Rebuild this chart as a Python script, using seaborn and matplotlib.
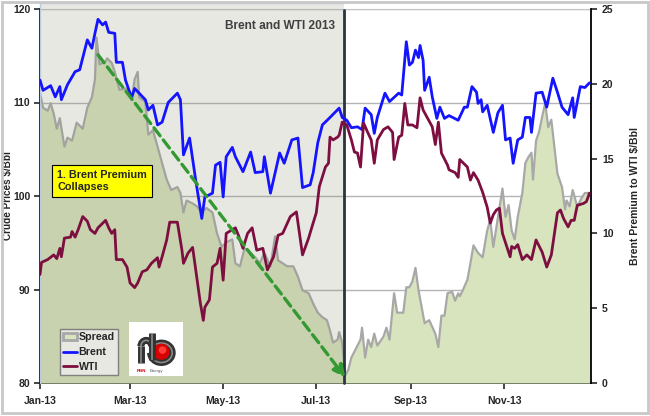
import matplotlib
matplotlib.use('Agg')
import numpy as np
import pandas as pd
import matplotlib.pyplot as plt
import matplotlib.dates as mdates
from matplotlib.patches import Rectangle, Circle, Arc, Patch
from matplotlib.lines import Line2D
import seaborn as sns

# days counted from 1 Jan 2013
brent_day = [0, 2, 7, 10, 13, 14, 18, 23, 26, 31,
             34, 36, 38, 41, 43, 45, 49, 50, 54, 56,
             60, 62, 69, 71, 74, 77, 80, 84, 90, 92,
             94, 98, 102, 106, 108, 113, 115, 118, 120, 122,
             126, 128, 133, 138, 141, 146, 147, 151, 157, 160,
             165, 169, 172, 177, 179, 182, 185, 190, 196, 198,
             201, 204, 208, 211, 213, 217, 219, 221, 226, 229,
             235, 237, 240, 242, 244, 246, 248, 249, 251, 252,
             255, 257, 260, 262, 265, 268, 274, 278, 280, 283,
             286, 287, 289, 290, 293, 297, 300, 303, 305, 308,
             310, 313, 316, 318, 321, 322, 325, 329, 332, 336,
             339, 342, 346, 349, 350, 354, 357, 360]
brent_price = [112.4, 111.3, 111.8, 110.6, 111.7, 110.3, 111.9, 113.3, 113.5, 116.7,
               115.8, 117.4, 118.9, 118.3, 118.6, 117.5, 117.4, 114.3, 114.3, 112.4,
               110.5, 111.5, 110.3, 109.2, 109.7, 107.6, 107.9, 110.0, 111.0, 110.3,
               104.4, 106.2, 101.7, 97.6, 99.9, 100.3, 103.3, 103.6, 99.9, 104.2,
               105.2, 104.2, 102.6, 104.7, 102.5, 102.6, 104.2, 100.3, 104.6, 103.5,
               106.0, 106.2, 100.9, 101.2, 102.5, 105.7, 107.6, 108.4, 109.4, 108.4,
               108.1, 107.3, 107.4, 107.1, 109.4, 108.7, 106.7, 108.4, 111.0, 110.1,
               111.0, 110.8, 116.5, 114.0, 114.3, 115.6, 114.8, 116.1, 114.5, 111.3,
               112.7, 110.6, 108.3, 109.5, 108.3, 108.6, 108.1, 109.5, 109.5, 111.7,
               111.1, 109.9, 110.3, 109.0, 109.7, 106.8, 108.9, 109.7, 106.0, 106.2,
               103.5, 106.0, 106.3, 108.4, 108.4, 106.8, 111.0, 111.1, 109.5, 112.6,
               111.1, 109.5, 108.7, 110.5, 108.4, 111.7, 111.6, 112.1]

wti_day = [0, 1, 5, 9, 11, 13, 14, 16, 20, 21,
           23, 25, 28, 31, 33, 36, 38, 43, 45, 47,
           49, 50, 54, 57, 59, 62, 64, 67, 70, 73,
           77, 78, 80, 83, 85, 90, 93, 94, 97, 100,
           103, 105, 107, 108, 111, 113, 116, 118, 120, 122,
           126, 128, 130, 133, 136, 139, 142, 146, 149, 153,
           156, 159, 164, 168, 170, 172, 176, 178, 181, 183,
           187, 189, 190, 192, 195, 196, 198, 201, 204, 206,
           208, 210, 212, 215, 217, 219, 221, 225, 228, 231,
           232, 235, 237, 239, 241, 244, 247, 249, 251, 253,
           257, 259, 261, 263, 267, 268, 272, 274, 275, 280,
           282, 284, 287, 290, 293, 295, 297, 299, 301, 303,
           306, 308, 309, 311, 313, 316, 319, 322, 325, 329,
           332, 335, 339, 341, 343, 346, 348, 350, 352, 356,
           358, 360]
wti_price = [91.6, 92.9, 93.2, 93.7, 93.3, 94.4, 93.5, 95.5, 95.6, 96.2,
             95.6, 96.4, 97.8, 97.3, 96.4, 96.0, 96.6, 97.4, 96.6, 96.0,
             96.4, 93.2, 93.2, 92.4, 90.7, 90.2, 90.7, 91.9, 92.1, 92.8,
             93.4, 92.4, 93.5, 95.3, 97.2, 97.2, 94.2, 92.8, 93.9, 94.5,
             91.0, 88.6, 86.7, 88.1, 88.9, 92.4, 92.8, 94.4, 91.0, 96.0,
             96.4, 96.6, 95.8, 94.4, 96.0, 96.6, 94.2, 94.4, 92.1, 93.5,
             95.8, 96.0, 97.8, 98.3, 96.0, 93.7, 95.5, 96.6, 98.2, 101.0,
             103.1, 103.5, 106.3, 106.0, 106.3, 106.5, 107.9, 107.6, 106.0, 104.7,
             104.6, 103.1, 107.8, 106.7, 106.0, 103.5, 106.0, 107.1, 107.4, 106.8,
             103.9, 106.3, 106.5, 109.9, 107.6, 107.6, 107.3, 110.5, 109.2, 108.6,
             107.4, 105.5, 107.9, 104.6, 103.3, 102.8, 102.5, 102.0, 103.9, 103.1,
             101.7, 102.5, 101.7, 100.4, 98.8, 97.1, 98.0, 98.5, 98.7, 96.0,
             94.5, 93.5, 94.6, 94.4, 94.8, 93.2, 93.7, 93.2, 95.3, 94.0,
             92.4, 93.7, 98.2, 98.5, 97.6, 96.7, 97.4, 97.4, 99.0, 99.2,
             99.4, 100.3]

spread_day = [0, 2, 5, 7, 9, 11, 13, 16, 18, 21,
              24, 28, 31, 34, 36, 37, 39, 43, 44, 47,
              49, 52, 57, 60, 62, 64, 65, 69, 71, 74,
              77, 80, 83, 86, 90, 92, 94, 96, 100, 103,
              106, 109, 113, 116, 119, 122, 126, 128, 131, 134,
              138, 141, 144, 147, 151, 154, 156, 159, 162, 166,
              169, 172, 176, 179, 182, 185, 188, 190, 192, 195,
              196, 198, 200, 202, 204, 208, 210, 211, 213, 215,
              217, 219, 221, 225, 227, 229, 232, 234, 238, 240,
              242, 244, 246, 248, 252, 255, 259, 261, 263, 265,
              267, 270, 272, 274, 275, 277, 280, 282, 284, 287,
              290, 293, 295, 297, 299, 303, 305, 307, 309, 311,
              313, 316, 318, 320, 322, 323, 325, 327, 329, 331,
              333, 335, 337, 339, 342, 344, 345, 347, 349, 352,
              355, 357, 360]
spread_value = [19.4, 18.4, 18.2, 18.7, 18.0, 17.0, 17.7, 15.8, 16.4, 16.2,
                17.4, 17.0, 18.4, 19.1, 20.3, 23.1, 21.3, 21.5, 21.7, 21.4,
                20.8, 19.6, 19.7, 18.9, 20.3, 20.8, 19.1, 18.8, 16.6, 16.9,
                15.8, 14.7, 13.6, 12.9, 13.1, 12.7, 11.4, 12.2, 12.0, 11.8,
                11.4, 11.7, 11.4, 10.0, 9.1, 9.4, 9.6, 8.0, 7.8, 9.0,
                8.7, 8.4, 8.0, 8.7, 7.8, 9.8, 8.2, 8.0, 7.8, 7.8,
                7.1, 6.2, 6.0, 5.3, 4.7, 4.4, 4.2, 3.5, 2.7, 2.9,
                3.4, 2.7, 0.5, 0.9, 1.7, 2.5, 2.9, 3.7, 1.7, 2.9,
                2.4, 3.3, 2.5, 3.1, 3.7, 2.9, 6.0, 4.7, 4.7, 6.4,
                6.4, 6.8, 7.7, 6.2, 4.0, 4.2, 3.3, 2.4, 4.5, 4.5,
                6.0, 6.1, 5.5, 6.0, 5.8, 6.2, 6.9, 8.0, 9.2, 8.7,
                8.4, 10.2, 10.9, 9.1, 10.4, 13.0, 11.1, 11.9, 10.2, 9.6,
                11.1, 12.7, 14.7, 15.1, 15.4, 13.6, 16.2, 16.8, 17.8, 18.7,
                17.1, 17.6, 15.8, 14.0, 13.1, 11.6, 12.2, 11.8, 12.9, 11.8,
                12.4, 12.7, 12.7]

price_ticks = [80, 90, 100, 110, 120]
spread_ticks = [0, 5, 10, 15, 20, 25]
month_ticks = ['2013-01-01', '2013-03-01', '2013-05-01', '2013-07-01', '2013-09-01', '2013-11-01']
start = pd.Timestamp('2013-01-01')
x_end = pd.Timestamp('2013-12-28')
shade_end = pd.Timestamp('2013-07-19')
arrow_from = (pd.Timestamp('2013-02-08'), 115.1)
arrow_to = (pd.Timestamp('2013-07-20'), 80.6)

BLUE = '#1414ff'
MAROON = '#7d0f40'
GREEN_FILL = '#d7e4bd'
SPREAD_LINE = '#a8a8a8'


def make_frame(days, values):
    return pd.DataFrame({'date': start + pd.to_timedelta(days, unit='D'), 'value': values})


brent = make_frame(brent_day, brent_price)
wti = make_frame(wti_day, wti_price)
spread = make_frame(spread_day, spread_value)

sns.set_style('white')
plt.rcParams['font.family'] = ['Liberation Sans', 'DejaVu Sans']

fig = plt.figure(figsize=(6.5, 4.16), dpi=100)
ax = fig.add_axes([40 / 650, 33 / 416, 551 / 650, 374 / 416])
ax2 = ax.twinx()
ax3 = fig.add_axes(ax.get_position(), sharex=ax, sharey=ax)
ax3.axis('off')

# price axis: grid and left ticks only
ax.yaxis.grid(True, color='#b4b4b4', lw=1)
ax.set_axisbelow(True)

# spread: area + grey line on the right-hand axis
ax2.fill_between(spread['date'], 0, spread['value'], color=GREEN_FILL, lw=0, zorder=1)
sns.lineplot(data=spread, x='date', y='value', ax=ax2, color=SPREAD_LINE, lw=1.6, zorder=2)

# shaded first half of year
x0 = mdates.date2num(start)
x1 = mdates.date2num(shade_end)
tr = ax3.get_xaxis_transform()
ax3.add_patch(Rectangle((x0, 0), x1 - x0, 1.016, transform=tr, facecolor='#8c8e76',
                        alpha=0.2, edgecolor='none', clip_on=False, zorder=0))
ax3.add_line(Line2D([x0, x0, x1], [0, 1.016, 1.016], transform=tr, color='#b9cde0',
                    lw=1, clip_on=False, zorder=1))
ax3.add_line(Line2D([x1, x1], [0, 0.998], transform=tr, color='#2a3440', lw=2,
                    clip_on=False, zorder=1))

sns.lineplot(data=brent, x='date', y='value', ax=ax3, color=BLUE, lw=2.0, zorder=3)
sns.lineplot(data=wti, x='date', y='value', ax=ax3, color=MAROON, lw=2.0, zorder=3)

ax3.annotate('', xy=(mdates.date2num(arrow_to[0]), arrow_to[1]),
             xytext=(mdates.date2num(arrow_from[0]), arrow_from[1]),
             arrowprops=dict(arrowstyle='-|>,head_length=0.7,head_width=0.35',
                             color='#339933', lw=2.4, linestyle=(0, (3, 1.6)),
                             shrinkA=0, shrinkB=0), zorder=4)

ax3.text(0.535, 0.9545, 'Brent and WTI 2013', transform=ax3.transAxes, ha='right',
         va='center', fontsize=8.6, fontweight='bold', color='#404040')
ax3.text(0.031, 0.54, '1. Brent Premium\nCollapses', transform=ax3.transAxes, ha='left',
         va='center', fontsize=7.8, fontweight='bold', linespacing=1.2,
         bbox=dict(boxstyle='square,pad=0.45', facecolor='#ffff00', edgecolor='black', lw=0.8),
         zorder=5)

handles = [Patch(facecolor=GREEN_FILL, edgecolor=SPREAD_LINE, lw=2),
           Line2D([], [], color=BLUE, lw=2),
           Line2D([], [], color=MAROON, lw=2)]
leg = ax3.legend(handles, ['Spread', 'Brent', 'WTI'], loc='lower left',
                 bbox_to_anchor=(0.036, 0.021), borderaxespad=0,
                 prop={'size': 7.7, 'weight': 'bold'},
                 handlelength=1.35, handleheight=0.6, handletextpad=0.1, labelspacing=0.45,
                 borderpad=0.3, fancybox=False, framealpha=1,
                 facecolor='#e8e8e2', edgecolor='#808080')
leg.get_frame().set_linewidth(1)
leg.set_zorder(6)

# axis limits and ticks
ax.set_xlim(start, x_end)
ax.set_ylim(80, 120)
ax2.set_ylim(0, 25)
ax.set_yticks(price_ticks)
ax2.set_yticks(spread_ticks)
ax.set_xticks(pd.to_datetime(month_ticks))
ax.xaxis.set_major_formatter(mdates.DateFormatter('%b-%y'))
ax.set_xlabel('')
ax2.set_xlabel('')

ax.tick_params(axis='y', direction='out', length=4, width=1.2, pad=3, labelsize=7.5, left=True)
ax.tick_params(axis='x', direction='out', length=4, width=1.2, pad=5, labelsize=7.5, bottom=True)
ax2.tick_params(axis='y', direction='out', length=4, width=1.2, pad=4, labelsize=7.5, right=True)
for lab in ax.get_yticklabels() + ax.get_xticklabels() + ax2.get_yticklabels():
    lab.set_fontweight('bold')

ax.set_ylabel(r'Crude Prices \$/Bbl', fontsize=7.2, fontweight='bold')
ax.yaxis.set_label_coords(-0.049, 0.5)
ax2.set_ylabel(r'Brent Premium to WTI \$/Bbl', fontsize=7.5, fontweight='bold', labelpad=12)

for side in ['left', 'bottom']:
    ax.spines[side].set_color('black')
    ax.spines[side].set_linewidth(1.3)
ax.spines['top'].set_color('#c4c4c4')
ax.spines['top'].set_linewidth(0.8)
ax.spines['right'].set_visible(False)
for side in ['left', 'bottom', 'top']:
    ax2.spines[side].set_visible(False)
ax2.spines['right'].set_color('black')
ax2.spines['right'].set_linewidth(1.3)

# RBN logo
logo = fig.add_axes([129 / 650, 40 / 416, 54 / 650, 54 / 416])
logo.set_xlim(0, 1)
logo.set_ylim(0, 1)
logo.axis('off')
logo.add_patch(Rectangle((0, 0), 1, 1, facecolor='white', edgecolor='none'))
for lw, col in [(5, '#333333'), (1.2, '#8a8a8a')]:
    logo.add_patch(Arc((0.32, 0.55), 0.2, 0.22, theta1=0, theta2=180, color=col, lw=lw))
    logo.plot([0.22, 0.22], [0.24, 0.55], color=col, lw=lw, solid_capstyle='butt')
    logo.plot([0.42, 0.42], [0.3, 0.8], color=col, lw=lw, solid_capstyle='butt')
    logo.add_patch(Arc((0.6, 0.43), 0.4, 0.36, theta1=-180, theta2=150, color=col, lw=lw))
logo.add_patch(Circle((0.6, 0.45), 0.15, facecolor='#d80000', edgecolor='none'))
logo.add_patch(Circle((0.62, 0.48), 0.07, facecolor='#ff3b3b', edgecolor='none'))
logo.text(0.14, 0.1, 'RBN', color='#cc0000', fontsize=3.2, fontweight='bold', va='center')
logo.text(0.38, 0.1, 'Energy', color='#555555', fontsize=3.2, va='center')

# light grey frame around the whole picture
fig.patches.append(Rectangle((2 / 650, 3 / 416), 646 / 650, 411 / 416, transform=fig.transFigure,
                             fill=False, edgecolor='#c8c8c8', lw=2))

fig.savefig('out.png', dpi=100)
